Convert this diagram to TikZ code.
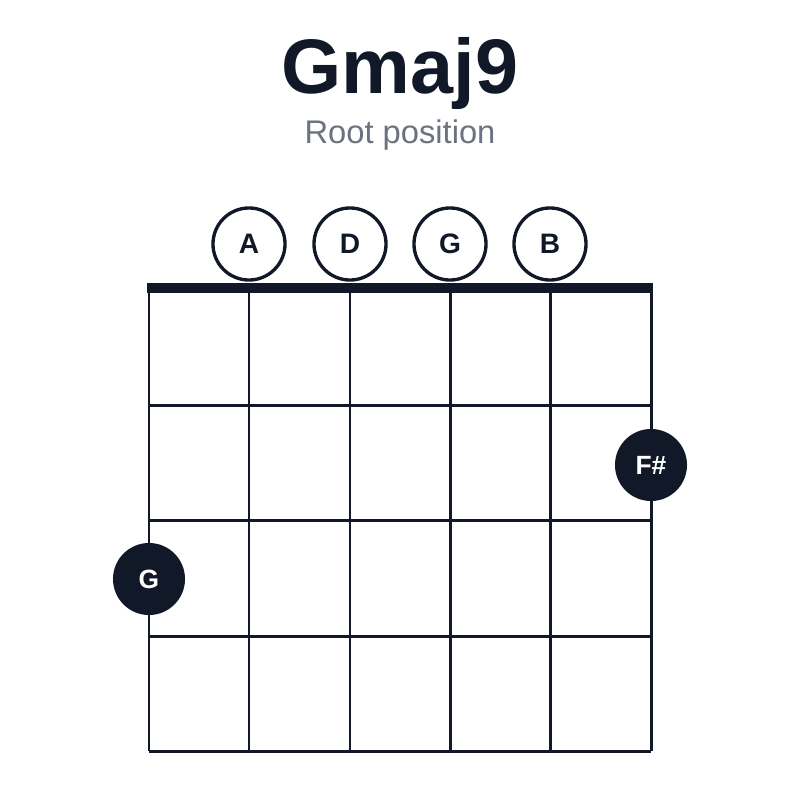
\documentclass[tikz,border=0pt]{standalone}
\usepackage{fontspec}
\setmainfont{Liberation Sans}
\definecolor{ink}{HTML}{111827}
\definecolor{sub}{HTML}{6B7280}
\begin{document}
\begin{tikzpicture}[x=0.01cm,y=-0.01cm,
  grid/.style={ink,line width=0.85pt},
  open/.style={circle,draw=ink,fill=white,line width=0.95pt,minimum size=0.72cm,inner sep=0pt,font=\fontsize{8}{8}\selectfont\bfseries,text=ink},
  fing/.style={circle,fill=ink,minimum size=0.72cm,inner sep=0pt,font=\fontsize{7.5}{8}\selectfont\bfseries,text=white}]
\useasboundingbox (0,0) rectangle (800,800);
\node (t) at (400,73) {\fontsize{22}{24}\selectfont\bfseries\color{ink}Gmaj9};
\node (s) at (400,135) {\fontsize{9.3}{10}\selectfont\color{sub}Root position};
\foreach \x in {149,249,350,450,550,651} \draw[grid] (\x,288) -- (\x,751);
\foreach \y in {405,520,636,751} \draw[grid] (149,\y) -- (651,\y);
\draw[ink,line width=2.8pt] (147,288) -- (653,288);
\node[open] (oA) at (249,244) {A};
\node[open] (oD) at (350,244) {D};
\node[open] (oG) at (450,244) {G};
\node[open] (oB) at (550,244) {B};
\node[fing] (fF) at (651,465) {F\#};
\node[fing] (fG) at (149,579) {G};
\end{tikzpicture}
\end{document}
